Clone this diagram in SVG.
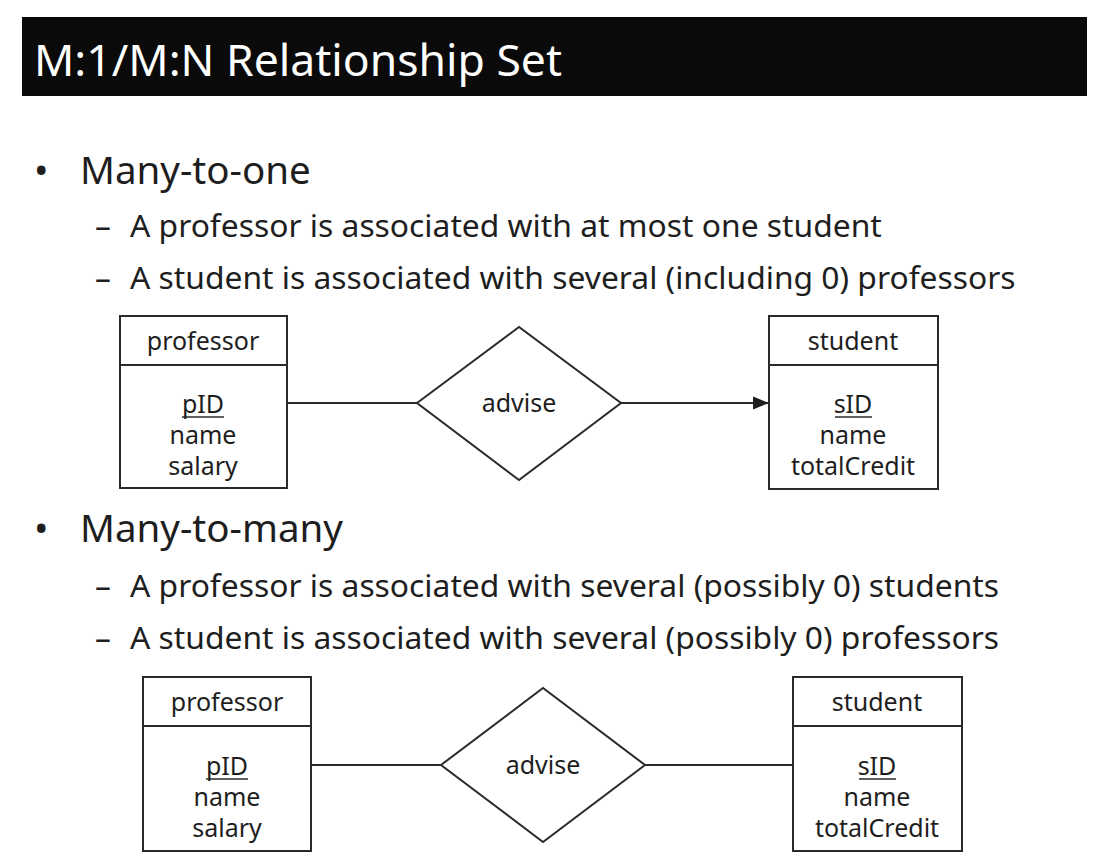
<svg xmlns="http://www.w3.org/2000/svg" width="1094" height="858" viewBox="0 0 1094 858">
<style>
text{font-family:"Noto Sans","Open Sans","Liberation Sans",sans-serif;fill:#1e1e1e}
.t{fill:#ffffff;font-size:44.5px}
.b{font-size:38.5px}
.d{font-size:31.8px}
.n{font-size:25px;text-anchor:middle}
.box{fill:#ffffff;stroke:#2a2a2a;stroke-width:2}
.ln{stroke:#2a2a2a;stroke-width:2;fill:none}
.u{stroke:#2a2a2a;stroke-width:1.5}
</style>
<defs>
<marker id="arr" viewBox="0 0 10 10" refX="10" refY="5" markerWidth="16" markerHeight="16" markerUnits="userSpaceOnUse" orient="auto">
<path d="M0,1 L10,5 L0,9 z" fill="#1e1e1e"/>
</marker>
</defs>
<rect width="1094" height="858" fill="#ffffff"/>
<g id="title">
<rect x="22" y="17" width="1065" height="79" fill="#0a0a0a"/>
<text class="t" x="34" y="76">M:1/M:N Relationship Set</text>
</g>
<g id="text-top">
<text class="b" x="34" y="184">•</text>
<text class="b" x="80" y="184">Many-to-one</text>
<text class="d" x="95" y="237">–</text>
<text class="d" x="130" y="237">A professor is associated with at most one student</text>
<text class="d" x="95" y="289">–</text>
<text class="d" x="130" y="289">A student is associated with several (including 0) professors</text>
</g>
<g id="text-bottom">
<text class="b" x="34" y="542">•</text>
<text class="b" x="80" y="542">Many-to-many</text>
<text class="d" x="95" y="597">–</text>
<text class="d" x="130" y="597">A professor is associated with several (possibly 0) students</text>
<text class="d" x="95" y="649">–</text>
<text class="d" x="130" y="649">A student is associated with several (possibly 0) professors</text>
</g>
<g id="connectors">
<line class="ln" x1="287" y1="403" x2="417" y2="403"/>
<line class="ln" x1="621" y1="403" x2="769" y2="403" marker-end="url(#arr)"/>
<line class="ln" x1="311" y1="765" x2="441" y2="765"/>
<line class="ln" x1="645" y1="765" x2="793" y2="765"/>
</g>
<g id="professor1">
<rect class="box" x="120" y="316" width="167" height="172"/>
<line class="ln" x1="120" y1="365" x2="287" y2="365"/>
<text class="n" x="203" y="350">professor</text>
<text class="n" x="203" y="413">pID</text>
<line class="u" x1="182" y1="417" x2="224" y2="417"/>
<text class="n" x="203" y="444">name</text>
<text class="n" x="203" y="475">salary</text>
</g>
<g id="advise1">
<polygon class="box" points="417,403 519,327 621,403 519,480"/>
<text class="n" x="519" y="412">advise</text>
</g>
<g id="student1">
<rect class="box" x="769" y="316" width="169" height="173"/>
<line class="ln" x1="769" y1="365" x2="938" y2="365"/>
<text class="n" x="853" y="350">student</text>
<text class="n" x="853" y="413">sID</text>
<line class="u" x1="835" y1="417" x2="872" y2="417"/>
<text class="n" x="853" y="444">name</text>
<text class="n" x="853" y="475">totalCredit</text>
</g>
<g id="professor2">
<rect class="box" x="143" y="677" width="168" height="174"/>
<line class="ln" x1="143" y1="726" x2="311" y2="726"/>
<text class="n" x="227" y="711">professor</text>
<text class="n" x="227" y="775">pID</text>
<line class="u" x1="206" y1="779" x2="248" y2="779"/>
<text class="n" x="227" y="806">name</text>
<text class="n" x="227" y="837">salary</text>
</g>
<g id="advise2">
<polygon class="box" points="441,765 543,688 645,765 543,842"/>
<text class="n" x="543" y="774">advise</text>
</g>
<g id="student2">
<rect class="box" x="793" y="677" width="169" height="174"/>
<line class="ln" x1="793" y1="726" x2="962" y2="726"/>
<text class="n" x="877" y="711">student</text>
<text class="n" x="877" y="775">sID</text>
<line class="u" x1="859" y1="779" x2="896" y2="779"/>
<text class="n" x="877" y="806">name</text>
<text class="n" x="877" y="837">totalCredit</text>
</g>
</svg>
